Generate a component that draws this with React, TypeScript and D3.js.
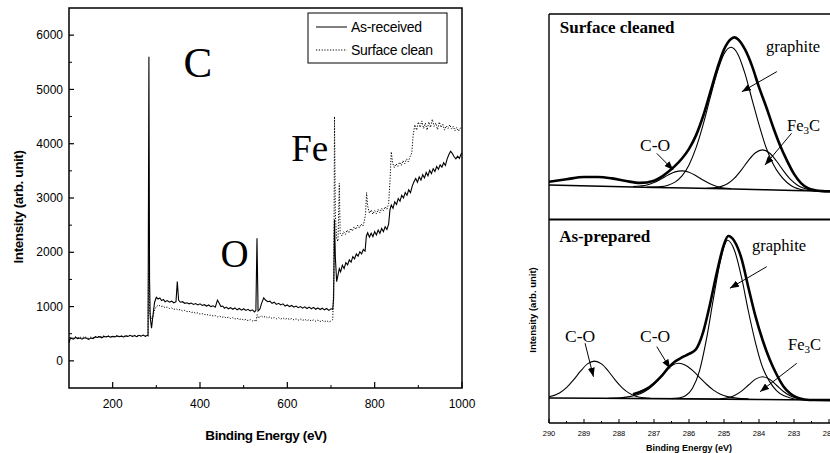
import React from 'react';
import * as d3 from 'd3';

// survey spectra: [binding energy (eV), intensity (arb. unit)]
const asReceived: [number, number][] = [
  [100, 330], [103, 420], [110, 400], [115, 430], [120, 410], [125, 420], [130, 400], [135, 425], [140, 415],
  [145, 395], [150, 420], [155, 410], [160, 440], [165, 430], [170, 445], [175, 425], [180, 450], [185, 440],
  [190, 455], [195, 435], [200, 450], [205, 440], [210, 460], [215, 445], [220, 455], [225, 440], [230, 460],
  [235, 450], [240, 470], [245, 450], [250, 465], [255, 445], [260, 470], [265, 455], [270, 475], [275, 450],
  [279, 470], [281, 460], [283, 5600], [284.5, 1500], [286, 800], [289, 600], [292, 820], [296, 1080],
  [300, 1170], [304, 1140], [308, 1160], [312, 1110], [316, 1130], [320, 1090], [325, 1110], [330, 1080],
  [335, 1100], [340, 1070], [345, 1090], [348, 1460], [351, 1120], [355, 1080], [360, 1090], [365, 1060],
  [370, 1070], [375, 1050], [380, 1065], [385, 1040], [390, 1055], [395, 1030], [400, 1050], [405, 1020],
  [410, 1035], [415, 1010], [420, 1030], [425, 1000], [430, 1015], [435, 990], [440, 1120], [444, 1060],
  [448, 1000], [452, 1010], [456, 970], [460, 990], [465, 960], [470, 980], [475, 950], [480, 975],
  [485, 940], [490, 965], [495, 935], [500, 960], [505, 930], [510, 950], [515, 920], [520, 940],
  [525, 900], [528, 930], [530.5, 2260], [533, 920], [537, 950], [541, 1060], [546, 1160], [550, 1120],
  [555, 1090], [560, 1100], [565, 1060], [570, 1080], [575, 1040], [580, 1060], [585, 1030], [590, 1050],
  [595, 1010], [600, 1030], [605, 1000], [610, 1020], [615, 990], [620, 1010], [625, 980], [630, 1000],
  [635, 970], [640, 995], [645, 965], [650, 990], [655, 960], [660, 985], [665, 950], [670, 975],
  [675, 945], [680, 970], [685, 940], [690, 965], [695, 930], [700, 960], [704, 950], [706, 1150],
  [708, 2600], [710, 1900], [713, 1460], [716, 1580], [719, 1700], [722, 1640], [726, 1760], [730, 1700],
  [734, 1810], [738, 1770], [742, 1860], [746, 1820], [750, 1920], [754, 1880], [758, 1970], [762, 1930],
  [766, 2010], [770, 1970], [774, 2050], [778, 2020], [781, 2300], [784, 2360], [788, 2280], [792, 2350],
  [796, 2290], [800, 2380], [804, 2320], [808, 2410], [812, 2350], [816, 2440], [820, 2380], [824, 2470],
  [828, 2420], [832, 2520], [835, 2780], [838, 2870], [842, 2810], [846, 2930], [850, 2880], [854, 2990],
  [858, 2940], [862, 3050], [866, 3000], [870, 3100], [874, 3050], [878, 3150], [882, 3100], [886, 3220],
  [890, 3300], [894, 3360], [898, 3290], [902, 3390], [906, 3330], [910, 3430], [914, 3370], [918, 3470],
  [922, 3410], [926, 3510], [930, 3450], [934, 3540], [938, 3490], [942, 3580], [946, 3530], [950, 3610],
  [954, 3570], [958, 3650], [962, 3600], [966, 3720], [970, 3800], [974, 3860], [978, 3820], [982, 3760],
  [986, 3720], [990, 3770], [994, 3730], [998, 3810], [1000, 3830],
];

const surfaceClean: [number, number][] = [
  [100, 380], [105, 440], [110, 420], [115, 445], [120, 425], [125, 440], [130, 420], [135, 445], [140, 430],
  [145, 415], [150, 440], [155, 425], [160, 450], [165, 440], [170, 455], [175, 440], [180, 460], [185, 445],
  [190, 460], [195, 440], [200, 455], [205, 445], [210, 465], [215, 450], [220, 460], [225, 445], [230, 465],
  [235, 455], [240, 470], [245, 455], [250, 470], [255, 450], [260, 470], [265, 460], [270, 470], [275, 455],
  [279, 465], [281, 470], [283, 2500], [284.5, 900], [288, 780], [292, 800], [296, 950], [300, 1000],
  [305, 1030], [310, 1000], [315, 1010], [320, 980], [325, 990], [330, 965], [335, 975], [340, 950],
  [345, 960], [350, 935], [355, 945], [360, 920], [365, 930], [370, 905], [375, 915], [380, 890],
  [385, 900], [390, 875], [395, 885], [400, 860], [405, 870], [410, 850], [415, 860], [420, 835],
  [425, 845], [430, 825], [435, 835], [440, 810], [445, 825], [450, 800], [455, 815], [460, 790],
  [465, 805], [470, 780], [475, 795], [480, 770], [485, 785], [490, 760], [495, 775], [500, 750],
  [505, 765], [510, 740], [515, 760], [520, 735], [525, 750], [528, 720], [531, 850], [534, 790],
  [540, 830], [545, 800], [550, 820], [555, 790], [560, 810], [565, 780], [570, 800], [575, 775],
  [580, 795], [585, 770], [590, 790], [595, 765], [600, 785], [605, 760], [610, 780], [615, 755],
  [620, 775], [625, 750], [630, 770], [635, 745], [640, 765], [645, 740], [650, 760], [655, 735],
  [660, 755], [665, 730], [670, 750], [675, 725], [680, 745], [685, 720], [690, 740], [695, 715],
  [700, 735], [704, 760], [706.5, 1500], [708, 4500], [710, 2700], [713, 2250], [716, 2200], [719, 3270],
  [721, 2350], [725, 2300], [729, 2380], [733, 2330], [737, 2410], [741, 2360], [745, 2440], [749, 2390],
  [753, 2470], [757, 2420], [761, 2500], [765, 2450], [769, 2520], [773, 2480], [776, 2560], [779, 2700],
  [781.5, 3100], [784, 2850], [788, 2720], [792, 2780], [796, 2700], [800, 2770], [804, 2710], [808, 2790],
  [812, 2730], [816, 2810], [820, 2760], [824, 2840], [828, 2790], [832, 2900], [835, 3300], [838, 3850],
  [841, 3650], [845, 3560], [849, 3630], [853, 3580], [857, 3660], [861, 3600], [865, 3690], [869, 3630],
  [873, 3720], [877, 3670], [881, 3760], [885, 3830], [888, 4150], [892, 4350], [896, 4250], [900, 4400],
  [904, 4300], [908, 4420], [912, 4280], [916, 4380], [920, 4250], [924, 4400], [928, 4300], [932, 4450],
  [936, 4320], [940, 4380], [944, 4260], [948, 4400], [952, 4300], [956, 4360], [960, 4250], [964, 4330],
  [968, 4280], [972, 4350], [976, 4270], [980, 4320], [984, 4240], [988, 4300], [992, 4230], [996, 4290],
  [1000, 4280],
];

const surveyXTicks = [200, 400, 600, 800, 1000];
const surveyXMinor = [300, 500, 700, 900];
const surveyYTicks = [0, 1000, 2000, 3000, 4000, 5000, 6000];
const surveyYMinor = [500, 1500, 2500, 3500, 4500, 5500];

// C 1s fits, surface cleaned (upper panel)
const cleanedBackground: [number, number][] = [[290, 16.6], [287, 15.4], [285, 14.7], [283, 13.9], [281.5, 13.3]];
const cleanedCO: [number, number][] = [
  [287.6, 15.8], [287.4, 16.1], [287.2, 16.6], [287.0, 17.8], [286.8, 19.5], [286.6, 21.4], [286.4, 23.0],
  [286.2, 23.5], [286.0, 22.8], [285.8, 21.1], [285.6, 19.0], [285.4, 17.2], [285.2, 15.9], [285.0, 15.1], [284.8, 14.8],
];
const cleanedGraphite: [number, number][] = [
  [287.2, 15.6], [286.8, 15.8], [286.6, 16.5], [286.4, 18.0], [286.2, 21.0], [286.0, 26.4], [285.8, 34.7],
  [285.6, 45.8], [285.4, 58.8], [285.2, 71.2], [285.0, 80.5], [284.8, 83.8], [284.6, 80.3], [284.4, 70.9],
  [284.2, 58.4], [284.0, 46.0], [283.8, 35.0], [283.6, 27.0], [283.4, 21.5], [283.2, 17.8], [283.0, 15.5],
  [282.8, 14.4], [282.6, 13.9], [282.3, 13.6],
];
const cleanedFe3C: [number, number][] = [
  [285.5, 15.0], [285.3, 15.2], [285.1, 15.8], [284.9, 17.2], [284.7, 19.9], [284.5, 24.0], [284.3, 28.6],
  [284.1, 32.3], [283.9, 33.7], [283.7, 32.2], [283.5, 28.3], [283.3, 23.5], [283.1, 19.3], [282.9, 16.5],
  [282.7, 14.9], [282.5, 14.1], [282.3, 13.7],
];
const cleanedEnvelope: [number, number][] = [
  [290.0, 18.2], [289.5, 19.4], [289.0, 20.5], [288.6, 20.5], [288.2, 19.8], [287.8, 18.5], [287.4, 17.6],
  [287.0, 18.7], [286.8, 20.4], [286.6, 22.9], [286.4, 25.9], [286.2, 29.5], [286.0, 34.2], [285.8, 40.8],
  [285.6, 50.0], [285.4, 61.4], [285.2, 73.0], [285.0, 82.7], [284.8, 87.8], [284.7, 88.6], [284.6, 87.7],
  [284.4, 82.7], [284.2, 74.7], [284.0, 64.3], [283.8, 55.0], [283.6, 45.0], [283.4, 36.0], [283.2, 28.5],
  [283.0, 22.0], [282.8, 17.5], [282.6, 15.0], [282.4, 14.0], [282.2, 13.6], [281.5, 13.3],
];

// C 1s fits, as-prepared (lower panel)
const preparedBackground: [number, number][] = [[290, 12.3], [286, 11.9], [284, 11.6], [282, 11.35], [281.5, 11.3]];
const preparedCO1: [number, number][] = [
  [290.0, 12.9], [289.7, 14.8], [289.5, 17.4], [289.3, 21.2], [289.1, 25.5], [288.9, 29.1], [288.7, 30.5],
  [288.5, 29.1], [288.3, 25.5], [288.1, 21.0], [287.9, 17.2], [287.7, 14.6], [287.5, 13.1], [287.3, 12.4], [287.1, 12.2],
];
const preparedCO2: [number, number][] = [
  [288.3, 12.2], [288.1, 12.3], [287.9, 12.5], [287.7, 13.0], [287.5, 13.8], [287.3, 15.2], [287.1, 17.5],
  [286.9, 21.0], [286.7, 25.0], [286.5, 28.2], [286.3, 29.4], [286.1, 28.5], [285.9, 25.9], [285.7, 22.5],
  [285.5, 19.1], [285.3, 16.2], [285.1, 14.2], [284.9, 13.0], [284.7, 12.4], [284.5, 12.0], [284.3, 11.9],
];
const preparedGraphite: [number, number][] = [
  [286.5, 12.0], [286.3, 12.3], [286.1, 13.4], [285.9, 17.1], [285.7, 25.7], [285.5, 41.4], [285.3, 61.5],
  [285.1, 80.0], [284.9, 90.0], [284.7, 85.0], [284.5, 71.8], [284.3, 54.8], [284.1, 39.5], [283.9, 27.5],
  [283.7, 20.5], [283.5, 16.0], [283.3, 13.5], [283.1, 12.3], [282.9, 11.6], [282.6, 11.4],
];
const preparedFe3C: [number, number][] = [
  [285.1, 11.9], [284.9, 12.4], [284.7, 13.5], [284.5, 15.7], [284.3, 18.7], [284.1, 21.6], [283.9, 22.8],
  [283.7, 21.6], [283.5, 18.6], [283.3, 15.5], [283.1, 13.3], [282.9, 12.1], [282.7, 11.6],
];
const preparedEnvelope: [number, number][] = [
  [287.6, 14.2], [287.4, 15.3], [287.2, 16.9], [287.0, 19.5], [286.8, 22.8], [286.6, 27.0], [286.4, 30.3],
  [286.2, 32.3], [286.0, 34.0], [285.8, 36.3], [285.6, 44.5], [285.4, 58.5], [285.2, 74.5], [285.0, 88.0],
  [284.88, 92.1], [284.7, 89.5], [284.5, 81.0], [284.3, 66.5], [284.1, 52.5], [283.9, 41.0], [283.7, 31.5],
  [283.5, 24.0], [283.3, 18.0], [283.1, 14.4], [282.9, 12.5], [282.7, 11.6], [282.4, 11.3], [281.5, 11.2],
];

const c1sTicks = [290, 289, 288, 287, 286, 285, 284, 283, 282];
const c1sMinor = [289.5, 288.5, 287.5, 286.5, 285.5, 284.5, 283.5, 282.5];

// annotations in data units: label anchor, arrow start, arrow tip
type Note = { text: string; at: [number, number]; from: [number, number]; to: [number, number] };
const cleanedNotes: Note[] = [
  { text: 'graphite', at: [283.8, 81.5], from: [283.49, 71.9], to: [284.49, 62.1] },
  { text: 'Fe3C', at: [283.2, 42.9], from: [283.07, 41.8], to: [283.83, 26.3] },
  { text: 'C-O', at: [287.4, 33.2], from: [286.92, 32.0], to: [286.45, 23.9] },
];
const preparedNotes: Note[] = [
  { text: 'graphite', at: [284.2, 84.7], from: [283.78, 77.0], to: [284.83, 66.4] },
  { text: 'Fe3C', at: [283.17, 36.0], from: [282.92, 29.4], to: [283.97, 15.4] },
  { text: 'C-O', at: [289.54, 40.0], from: [288.97, 39.3], to: [288.73, 22.8] },
  { text: 'C-O', at: [287.4, 40.0], from: [286.92, 37.6], to: [286.54, 26.9] },
];

const sans = '"Liberation Sans", Arial, sans-serif';
const serif = '"Liberation Serif", "Times New Roman", serif';

export default function App() {
  // survey panel
  const x = d3.scaleLinear().domain([100, 1000]).range([69, 462]);
  const y = d3.scaleLinear().domain([-500, 6500]).range([388, 8]);
  const survey = d3.line<[number, number]>().x(d => x(d[0])).y(d => y(d[1]));

  // C 1s panels
  const xr = d3.scaleLinear().domain([290, 281.5]).range([549, 846.5]);
  const yTop = d3.scaleLinear().domain([0, 100]).range([219, 14]);
  const yBot = d3.scaleLinear().domain([0, 100]).range([423, 220]);
  const lineTop = d3.line<[number, number]>().x(d => xr(d[0])).y(d => yTop(d[1])).curve(d3.curveMonotoneX);
  const lineBot = d3.line<[number, number]>().x(d => xr(d[0])).y(d => yBot(d[1])).curve(d3.curveMonotoneX);

  const notes = (list: Note[], ys: d3.ScaleLinear<number, number>) =>
    list.map((n, i) => (
      <g key={i}>
        <line x1={xr(n.from[0])} y1={ys(n.from[1])} x2={xr(n.to[0])} y2={ys(n.to[1])}
          stroke="#000" strokeWidth={1} markerEnd="url(#head)" />
        <text x={xr(n.at[0])} y={ys(n.at[1])} fontFamily={serif} fontSize={n.text === 'C-O' ? 17.5 : 16.5}>
          {n.text === 'Fe3C'
            ? <>Fe<tspan dy={3} fontSize={11}>3</tspan><tspan dy={-3}>C</tspan></>
            : n.text}
        </text>
      </g>
    ));

  return (
    <svg width={830} height={453} style={{ position: 'absolute', left: 0, top: 0, background: '#fff' }}>
      <defs>
        <marker id="head" markerUnits="userSpaceOnUse" markerWidth={9} markerHeight={7} refX={9} refY={3.5} orient="auto">
          <path d="M0,0 L9,3.5 L0,7 Z" fill="#000" />
        </marker>
      </defs>

      {/* ---------- survey spectrum ---------- */}
      <rect x={69} y={8} width={393} height={380} fill="none" stroke="#000" strokeWidth={1.5} />
      {surveyYTicks.map(t => (
        <g key={'y' + t}>
          <line x1={69} x2={74} y1={y(t)} y2={y(t)} stroke="#000" strokeWidth={1.2} />
          <text x={63} y={y(t)} dy="0.35em" textAnchor="end" fontFamily={sans} fontSize={12}>{t}</text>
        </g>
      ))}
      {surveyYMinor.map(t => (
        <line key={'ym' + t} x1={69} x2={72} y1={y(t)} y2={y(t)} stroke="#000" strokeWidth={1} />
      ))}
      {surveyXTicks.map(t => (
        <g key={'x' + t}>
          <line x1={x(t)} x2={x(t)} y1={388} y2={382} stroke="#000" strokeWidth={1.2} />
          <text x={x(t)} y={408} textAnchor="middle" fontFamily={sans} fontSize={12}>{t}</text>
        </g>
      ))}
      {surveyXMinor.map(t => (
        <line key={'xm' + t} x1={x(t)} x2={x(t)} y1={388} y2={385} stroke="#000" strokeWidth={1} />
      ))}

      <path d={survey(surfaceClean) ?? ''} fill="none" stroke="#000" strokeWidth={1} strokeDasharray="1.2,1.6" />
      <path d={survey(asReceived) ?? ''} fill="none" stroke="#000" strokeWidth={1.1} />

      <text x={x(362)} y={y(5229)} fontFamily={serif} fontSize={43}>C</text>
      <text x={x(609)} y={y(3682)} fontFamily={serif} fontSize={37}>Fe</text>
      <text x={x(447)} y={y(1729)} fontFamily={serif} fontSize={39}>O</text>

      <rect x={308} y={13} width={139} height={50} fill="#fff" stroke="#000" strokeWidth={1} />
      <line x1={316} x2={347} y1={27} y2={27} stroke="#000" strokeWidth={1} />
      <text x={351} y={32} fontFamily={sans} fontSize={14} letterSpacing={-0.3}>As-received</text>
      <line x1={316} x2={347} y1={50} y2={50} stroke="#000" strokeWidth={1} strokeDasharray="1.2,1.6" />
      <text x={351} y={55} fontFamily={sans} fontSize={14} letterSpacing={-0.3}>Surface clean</text>

      <text x={266} y={440} textAnchor="middle" fontFamily={sans} fontSize={13.5} fontWeight="bold" letterSpacing={-0.4}>
        Binding Energy (eV)
      </text>
      <text transform="translate(23,207) rotate(-90)" textAnchor="middle" fontFamily={sans} fontSize={13.5}
        fontWeight="bold" letterSpacing={-0.4}>
        Intensity (arb. unit)
      </text>

      {/* ---------- C 1s panels ---------- */}
      <path d={lineTop(cleanedBackground) ?? ''} fill="none" stroke="#000" strokeWidth={1.5} />
      <path d={lineTop(cleanedCO) ?? ''} fill="none" stroke="#000" strokeWidth={1.1} />
      <path d={lineTop(cleanedFe3C) ?? ''} fill="none" stroke="#000" strokeWidth={1.1} />
      <path d={lineTop(cleanedGraphite) ?? ''} fill="none" stroke="#000" strokeWidth={1.1} />
      <path d={lineTop(cleanedEnvelope) ?? ''} fill="none" stroke="#000" strokeWidth={2.6} />

      <path d={lineBot(preparedBackground) ?? ''} fill="none" stroke="#000" strokeWidth={1.6} />
      <path d={lineBot(preparedCO1) ?? ''} fill="none" stroke="#000" strokeWidth={1.1} />
      <path d={lineBot(preparedCO2) ?? ''} fill="none" stroke="#000" strokeWidth={1.1} />
      <path d={lineBot(preparedFe3C) ?? ''} fill="none" stroke="#000" strokeWidth={1.1} />
      <path d={lineBot(preparedGraphite) ?? ''} fill="none" stroke="#000" strokeWidth={1.1} />
      <path d={lineBot(preparedEnvelope) ?? ''} fill="none" stroke="#000" strokeWidth={2.6} />

      <line x1={549} x2={549} y1={14} y2={423} stroke="#000" strokeWidth={1.4} />
      <line x1={549} x2={846.5} y1={14} y2={14} stroke="#000" strokeWidth={1.4} />
      <line x1={549} x2={846.5} y1={219.5} y2={219.5} stroke="#000" strokeWidth={2} />
      <line x1={549} x2={846.5} y1={423} y2={423} stroke="#000" strokeWidth={1.4} />

      {c1sTicks.map(t => (
        <g key={'r' + t}>
          <line x1={xr(t)} x2={xr(t)} y1={423} y2={419} stroke="#000" strokeWidth={1} />
          <text x={xr(t)} y={436} textAnchor="middle" fontFamily={sans} fontSize={7.5} fill="#000">{t}</text>
        </g>
      ))}
      {c1sMinor.map(t => (
        <line key={'rm' + t} x1={xr(t)} x2={xr(t)} y1={423} y2={421} stroke="#000" strokeWidth={1} />
      ))}

      <text x={xr(289.69)} y={yTop(90.7)} fontFamily={serif} fontSize={17} fontWeight="bold">Surface cleaned</text>
      <text x={xr(289.71)} y={yBot(89.2)} fontFamily={serif} fontSize={17} fontWeight="bold">As-prepared</text>
      {notes(cleanedNotes, yTop)}
      {notes(preparedNotes, yBot)}

      <text x={689} y={451} textAnchor="middle" fontFamily={sans} fontSize={9} fontWeight="bold">Binding Energy (eV)</text>
      <text transform="translate(536,310) rotate(-90)" textAnchor="middle" fontFamily={sans} fontSize={9.5}
        fontWeight="bold">
        Intensity (arb. unit)
      </text>
    </svg>
  );
}
